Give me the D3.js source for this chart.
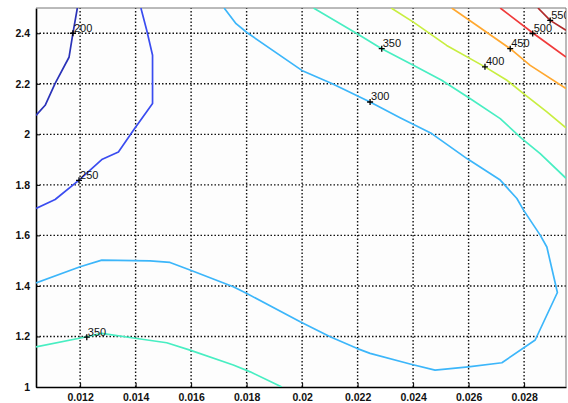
<!DOCTYPE html>
<html>
<head>
<meta charset="utf-8">
<script src="https://cdn.jsdelivr.net/npm/d3@7"></script>
<style>
	body { margin: 0; background: #fff; }
	svg { display: block; }
</style>
</head>
<body>
<div id="chart"></div>
<script>
// contour levels and their colours (jet-like)
const levels = [200, 250, 300, 350, 400, 450, 500, 550];
const levelColors = ["#2a32b8", "#3a4cf0", "#3cb6fa", "#48eec2", "#c8ee40", "#ffa830", "#f03a3a", "#b02a2a"];

// contour paths (x, y in data units)
const c200x = [0.01041, 0.01074, 0.01110, 0.01160, 0.01174, 0.01190];
const c200y = [2.075, 2.115, 2.202, 2.305, 2.400, 2.500];

const c250x = [0.01041, 0.01110, 0.01196, 0.01278, 0.01338, 0.01392, 0.01461, 0.01461, 0.01440, 0.01419];
const c250y = [1.707, 1.742, 1.819, 1.900, 1.930, 2.016, 2.122, 2.313, 2.412, 2.500];

const c300x = [0.01041, 0.01200, 0.01278, 0.01452, 0.01524, 0.01596, 0.01752, 0.01801, 0.01993, 0.02101,
	0.02197, 0.02245, 0.02389, 0.02479, 0.02599, 0.02720, 0.02840, 0.02920, 0.02882, 0.02858,
	0.02798, 0.02774, 0.02714, 0.02594, 0.02467, 0.02353, 0.02245, 0.02107, 0.01999, 0.01801,
	0.01762, 0.01719];
const c300y = [1.412, 1.476, 1.502, 1.499, 1.493, 1.463, 1.397, 1.370, 1.258, 1.199,
	1.153, 1.133, 1.091, 1.067, 1.080, 1.096, 1.186, 1.374, 1.554, 1.601,
	1.700, 1.746, 1.819, 1.904, 2.003, 2.066, 2.128, 2.201, 2.253, 2.403,
	2.438, 2.500];

const c350ax = [0.02041, 0.02197, 0.02287, 0.02401, 0.02503, 0.02605, 0.02714, 0.02792, 0.02858, 0.02951];
const c350ay = [2.500, 2.399, 2.339, 2.273, 2.214, 2.142, 2.062, 1.983, 1.924, 1.826];

const c350bx = [0.01041, 0.01224, 0.01278, 0.01398, 0.01512, 0.01596, 0.01752, 0.01813, 0.01927];
const c350by = [1.159, 1.199, 1.212, 1.193, 1.175, 1.146, 1.087, 1.060, 1.000];

const c400x = [0.02321, 0.02401, 0.02521, 0.02659, 0.02738, 0.02798, 0.02882, 0.02951];
const c400y = [2.500, 2.444, 2.352, 2.267, 2.214, 2.161, 2.089, 2.026];

const c450x = [0.02539, 0.02630, 0.02750, 0.02822, 0.02951];
const c450y = [2.500, 2.431, 2.339, 2.273, 2.181];

const c500x = [0.02714, 0.02834, 0.02951];
const c500y = [2.500, 2.399, 2.306];

const c550x = [0.02850, 0.02894, 0.02951];
const c550y = [2.500, 2.451, 2.412];

// clabel positions
const labelText = ["200", "250", "300", "350", "350", "400", "450", "500", "550"];
const labelX = [0.01174, 0.01196, 0.02245, 0.02287, 0.01224, 0.02659, 0.02750, 0.02831, 0.02894];
const labelY = [2.400, 1.818, 2.128, 2.339, 1.197, 2.267, 2.339, 2.399, 2.451];

const xTicks = [0.012, 0.014, 0.016, 0.018, 0.02, 0.022, 0.024, 0.026, 0.028];
const xTickLabels = ["0.012", "0.014", "0.016", "0.018", "0.02", "0.022", "0.024", "0.026", "0.028"];
const yTicks = [1, 1.2, 1.4, 1.6, 1.8, 2, 2.2, 2.4];
const yTickLabels = ["1", "1.2", "1.4", "1.6", "1.8", "2", "2.2", "2.4"];

const W = 568, H = 403;
const margin = { left: 36, right: 2, top: 8, bottom: 16 };

const x = d3.scaleLinear().domain([0.01041, 0.02951]).range([margin.left, W - margin.right]);
const y = d3.scaleLinear().domain([1, 2.5]).range([H - margin.bottom, margin.top]);

const svg = d3.select("#chart").append("svg")
	.attr("width", W)
	.attr("height", H)
	.style("font-family", "Arial, 'Liberation Sans', sans-serif");

svg.append("rect")
	.attr("x", margin.left).attr("y", margin.top)
	.attr("width", x.range()[1] - margin.left)
	.attr("height", y.range()[0] - margin.top)
	.attr("fill", "#fdfdfd");

svg.append("clipPath").attr("id", "plot-clip")
	.append("rect")
	.attr("x", margin.left).attr("y", margin.top)
	.attr("width", x.range()[1] - margin.left)
	.attr("height", y.range()[0] - margin.top);

// dotted grid
let grid = svg.append("g")
	.attr("stroke", "#111")
	.attr("stroke-width", 1.4)
	.attr("stroke-dasharray", "1.5,2");

grid.selectAll("line.vx").data(xTicks).enter().append("line")
	.attr("x1", d => x(d)).attr("x2", d => x(d))
	.attr("y1", y(1)).attr("y2", y(2.5));

grid.selectAll("line.hy").data(yTicks.slice(1)).enter().append("line")
	.attr("x1", x.range()[0]).attr("x2", x.range()[1])
	.attr("y1", d => y(d)).attr("y2", d => y(d));

// axes
let xAxis = svg.append("g")
	.attr("transform", `translate(0,${y(1)})`)
	.call(d3.axisBottom(x).tickValues(xTicks).tickFormat((d, i) => xTickLabels[i]).tickSizeInner(-4).tickSizeOuter(0).tickPadding(7));
let yAxis = svg.append("g")
	.attr("transform", `translate(${x.range()[0]},0)`)
	.call(d3.axisLeft(y).tickValues(yTicks).tickFormat((d, i) => yTickLabels[i]).tickSizeInner(-4).tickSizeOuter(0).tickPadding(6));

[xAxis, yAxis].forEach(a => {
	a.select(".domain").attr("stroke", "#000").attr("stroke-width", 1.6);
	a.selectAll(".tick line").attr("stroke", "#000");
	a.selectAll(".tick text")
		.attr("fill", "#111")
		.style("font-size", "10.5px")
		.style("font-weight", "bold");
});

// top and right box edges
svg.append("line")
	.attr("x1", x.range()[0]).attr("x2", x.range()[1])
	.attr("y1", y(2.5)).attr("y2", y(2.5))
	.attr("stroke", "#777").attr("stroke-width", 1);
svg.append("line")
	.attr("x1", x.range()[1]).attr("x2", x.range()[1])
	.attr("y1", y(2.5)).attr("y2", y(1))
	.attr("stroke", "#777").attr("stroke-width", 1);

// contour lines
const contours = [
	{ level: 200, xs: c200x, ys: c200y },
	{ level: 250, xs: c250x, ys: c250y },
	{ level: 300, xs: c300x, ys: c300y },
	{ level: 350, xs: c350ax, ys: c350ay },
	{ level: 350, xs: c350bx, ys: c350by },
	{ level: 400, xs: c400x, ys: c400y },
	{ level: 450, xs: c450x, ys: c450y },
	{ level: 500, xs: c500x, ys: c500y },
	{ level: 550, xs: c550x, ys: c550y }
];

const line = d3.line().x(d => x(d[0])).y(d => y(d[1]));

svg.append("g").attr("clip-path", "url(#plot-clip)")
	.selectAll("path")
	.data(contours)
	.enter().append("path")
	.attr("fill", "none")
	.attr("stroke", d => levelColors[levels.indexOf(d.level)])
	.attr("stroke-width", 1.7)
	.attr("stroke-linejoin", "round")
	.attr("d", d => line(d.xs.map((v, i) => [v, d.ys[i]])));

// labels: "+" marker and the level text
let labels = svg.append("g").attr("clip-path", "url(#plot-clip)")
	.selectAll("g")
	.data(labelText.map((t, i) => ({ t: t, x: labelX[i], y: labelY[i] })))
	.enter().append("g")
	.attr("transform", d => `translate(${x(d.x)},${y(d.y)})`);

labels.append("path")
	.attr("d", "M-3,0H3M0,-3V3")
	.attr("stroke", "#000")
	.attr("stroke-width", 1.3);

labels.append("text")
	.attr("x", 1)
	.attr("y", -1.5)
	.attr("fill", "#111")
	.style("font-size", "11px")
	.text(d => d.t);
</script>
</body>
</html>
